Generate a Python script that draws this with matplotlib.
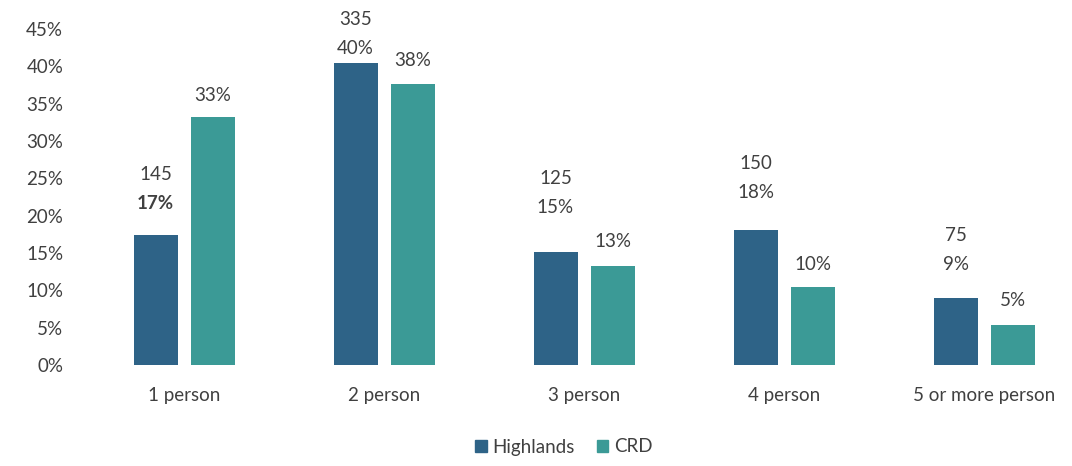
import matplotlib.pyplot as plt
import numpy as np
from matplotlib.patches import Patch

# Household size: Highlands (count + share) vs CRD share
categories = ["1 person", "2 person", "3 person", "4 person", "5 or more person"]
highlands_counts = [145, 335, 125, 150, 75]
highlands_pct = [17.4, 40.4, 15.1, 18.1, 9.0]
crd_pct = [33.2, 37.7, 13.2, 10.4, 5.3]

HIGHLANDS = "#2e6387"
CRD = "#3b9a96"
TEXT = "#404040"
FS = 13.5

# label lift above each bar top, in pixels (hand-placed labels)
hl_lift = [32, 15, 45, 37, 33]
crd_lift = [22, 23, 25, 23, 25]
line_gap = 29

plt.rcParams["font.family"] = ["Lato", "DejaVu Sans"]

fig = plt.figure(figsize=(10.72, 4.66), dpi=100)
ax = fig.add_axes([84 / 1072, 101 / 466, 1000 / 1072, 336 / 466])

x = np.arange(len(categories))
w = 0.22
off = 0.1425
ax.bar(x - off, highlands_pct, width=w, color=HIGHLANDS)
ax.bar(x + off, crd_pct, width=w, color=CRD)

for i in range(len(categories)):
    bold = "bold" if i == 0 else "normal"
    ax.annotate(f"{round(highlands_pct[i])}%", (x[i] - off, highlands_pct[i]),
                xytext=(0, hl_lift[i]), textcoords="offset pixels",
                ha="center", va="center", fontsize=FS, color=TEXT,
                fontweight=bold)
    ax.annotate(f"{highlands_counts[i]}", (x[i] - off, highlands_pct[i]),
                xytext=(0, hl_lift[i] + line_gap), textcoords="offset pixels",
                ha="center", va="center", fontsize=FS, color=TEXT)
    ax.annotate(f"{round(crd_pct[i])}%", (x[i] + off, crd_pct[i]),
                xytext=(0, crd_lift[i]), textcoords="offset pixels",
                ha="center", va="center", fontsize=FS, color=TEXT)

ax.set_xlim(-0.5, 4.5)
ax.set_ylim(0, 45)
ax.set_yticks(np.arange(0, 46, 5))
ax.set_yticklabels([f"{v}%" for v in range(0, 46, 5)])
ax.set_xticks(x)
ax.set_xticklabels(categories)
ax.tick_params(axis="y", length=0, pad=15, labelsize=FS, labelcolor=TEXT)
ax.tick_params(axis="x", length=0, pad=16, labelsize=FS, labelcolor=TEXT)
for s in ax.spines.values():
    s.set_visible(False)

handles = [Patch(color=HIGHLANDS, label="Highlands"), Patch(color=CRD, label="CRD")]
fig.legend(handles=handles, loc="center", bbox_to_anchor=(564 / 1072, 19 / 466),
           ncol=2, frameon=False, fontsize=FS, handlelength=0.6,
           handleheight=0.6, handletextpad=0.3, columnspacing=1.2,
           labelcolor=TEXT)

fig.savefig("out.png", dpi=100)
